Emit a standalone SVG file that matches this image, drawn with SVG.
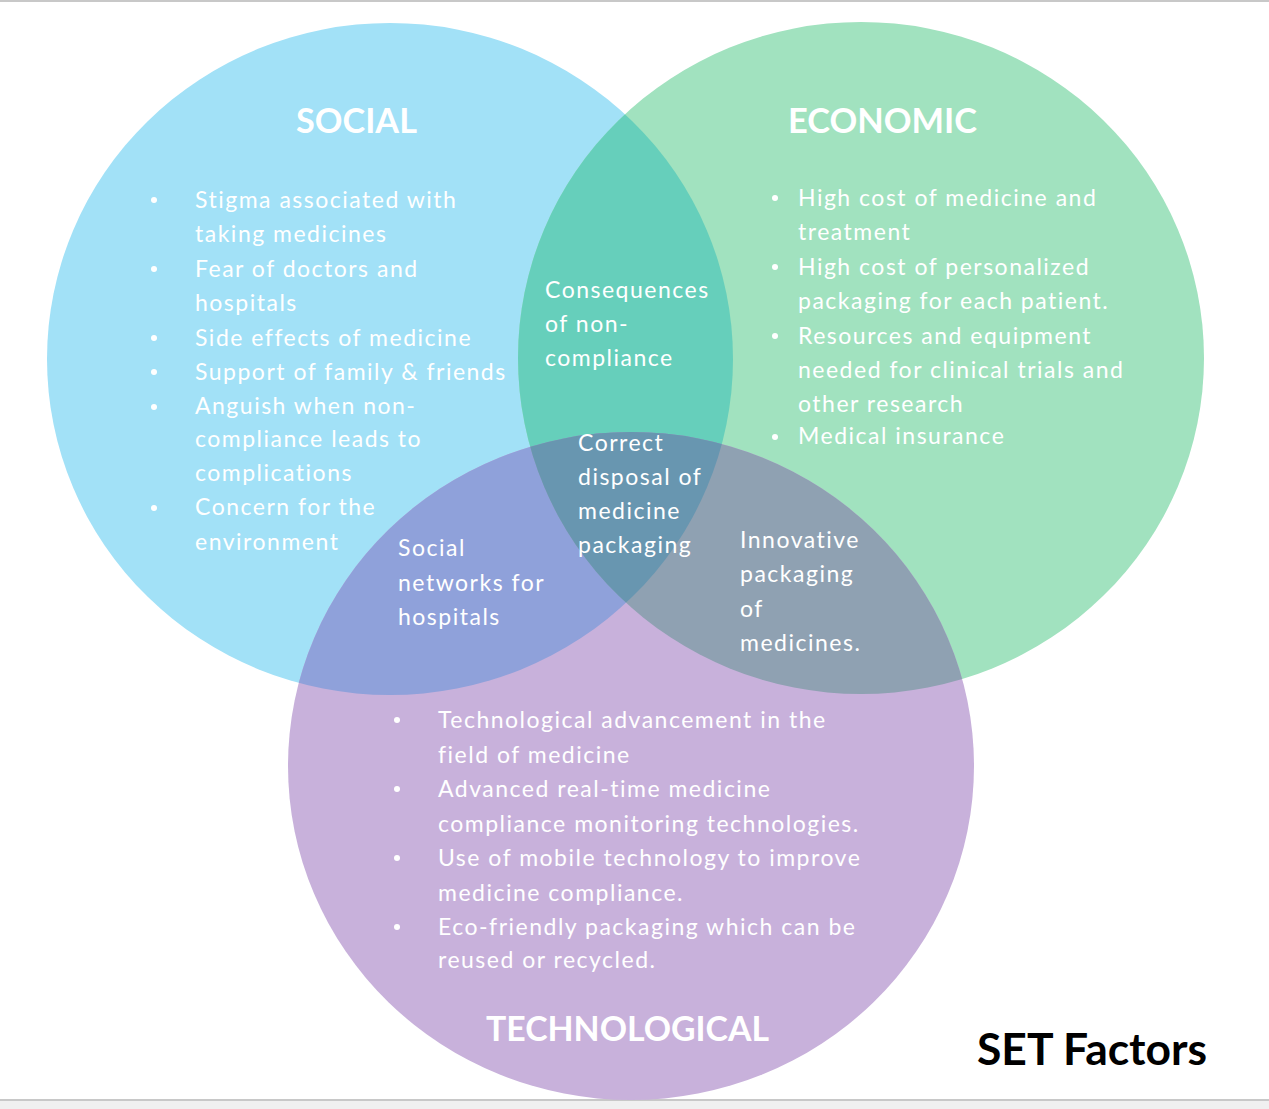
<svg xmlns="http://www.w3.org/2000/svg" width="1269" height="1109" viewBox="0 0 1269 1109">
<style>
.t{font-family:Lato,"Open Sans","Liberation Sans",sans-serif;font-size:23px;letter-spacing:1.5px;fill:#ffffff}
.h{font-family:Lato,"Open Sans","Liberation Sans",sans-serif;font-size:35px;font-weight:bold;fill:#ffffff}
.b{fill:#ffffff}
</style>
<defs>
<ellipse id="cS" cx="390" cy="359" rx="343" ry="336"/>
<ellipse id="cE" cx="861" cy="358" rx="343" ry="336"/>
<ellipse id="cT" cx="631" cy="766" rx="343" ry="334"/>
<clipPath id="clipS"><use href="#cS"/></clipPath>
<clipPath id="clipE"><use href="#cE"/></clipPath>
<clipPath id="clipT"><use href="#cT"/></clipPath>
</defs>
<rect x="0" y="0" width="1269" height="1109" fill="#ffffff"/>
<rect x="0" y="0" width="1269" height="2" fill="#c8c8c8"/>
<rect x="0" y="1101" width="1269" height="8" fill="#f0f0f0"/>
<rect x="0" y="1099" width="1269" height="2" fill="#c8c8c8"/>

<g id="node-social"><use href="#cS" fill="#a2e1f7"/></g>
<g id="node-economic"><use href="#cE" fill="#a1e2bf"/></g>
<g id="node-technological"><use href="#cT" fill="#c8b1db"/></g>
<g id="overlaps">
<g clip-path="url(#clipS)"><use href="#cE" fill="#66cfbb"/></g>
<g clip-path="url(#clipS)"><use href="#cT" fill="#8fa1da"/></g>
<g clip-path="url(#clipE)"><use href="#cT" fill="#8fa1b2"/></g>
<g clip-path="url(#clipS)"><g clip-path="url(#clipE)"><use href="#cT" fill="#6896b0"/></g></g>
</g>
<g id="connectors"/>

<g id="text-social">
<text class="h" x="296" y="133" textLength="121" lengthAdjust="spacingAndGlyphs">SOCIAL</text>
<circle class="b" cx="154" cy="200" r="3"/>
<circle class="b" cx="154" cy="269" r="3"/>
<circle class="b" cx="154" cy="338" r="3"/>
<circle class="b" cx="154" cy="372" r="3"/>
<circle class="b" cx="154" cy="407" r="3"/>
<circle class="b" cx="154" cy="508" r="3"/>
<text class="t" x="195" y="208">Stigma associated with</text>
<text class="t" x="195" y="242">taking medicines</text>
<text class="t" x="195" y="277">Fear of doctors and</text>
<text class="t" x="195" y="311">hospitals</text>
<text class="t" x="195" y="346">Side effects of medicine</text>
<text class="t" x="195" y="380">Support of family &amp; friends</text>
<text class="t" x="195" y="414">Anguish when non-</text>
<text class="t" x="195" y="447">compliance leads to</text>
<text class="t" x="195" y="481">complications</text>
<text class="t" x="195" y="515">Concern for the</text>
<text class="t" x="195" y="550">environment</text>
</g>

<g id="text-economic">
<text class="h" x="788" y="133" textLength="189" lengthAdjust="spacingAndGlyphs">ECONOMIC</text>
<circle class="b" cx="775" cy="198" r="3"/>
<circle class="b" cx="775" cy="267" r="3"/>
<circle class="b" cx="775" cy="336" r="3"/>
<circle class="b" cx="775" cy="437" r="3"/>
<text class="t" x="798" y="206">High cost of medicine and</text>
<text class="t" x="798" y="240">treatment</text>
<text class="t" x="798" y="275">High cost of personalized</text>
<text class="t" x="798" y="309">packaging for each patient.</text>
<text class="t" x="798" y="344">Resources and equipment</text>
<text class="t" x="798" y="378">needed for clinical trials and</text>
<text class="t" x="798" y="412">other research</text>
<text class="t" x="798" y="444">Medical insurance</text>
</g>

<g id="text-social-economic">
<text class="t" x="545" y="298">Consequences</text>
<text class="t" x="545" y="332">of non-</text>
<text class="t" x="545" y="366">compliance</text>
</g>

<g id="text-center">
<text class="t" x="578" y="451">Correct</text>
<text class="t" x="578" y="485">disposal of</text>
<text class="t" x="578" y="519">medicine</text>
<text class="t" x="578" y="553">packaging</text>
</g>

<g id="text-social-technological">
<text class="t" x="398" y="556">Social</text>
<text class="t" x="398" y="591">networks for</text>
<text class="t" x="398" y="625">hospitals</text>
</g>

<g id="text-economic-technological">
<text class="t" x="740" y="548">Innovative</text>
<text class="t" x="740" y="582">packaging</text>
<text class="t" x="740" y="617">of</text>
<text class="t" x="740" y="651">medicines.</text>
</g>

<g id="text-technological">
<circle class="b" cx="397" cy="720" r="3"/>
<circle class="b" cx="397" cy="789" r="3"/>
<circle class="b" cx="397" cy="858" r="3"/>
<circle class="b" cx="397" cy="927" r="3"/>
<text class="t" x="438" y="728">Technological advancement in the</text>
<text class="t" x="438" y="763">field of medicine</text>
<text class="t" x="438" y="797">Advanced real-time medicine</text>
<text class="t" x="438" y="832">compliance monitoring technologies.</text>
<text class="t" x="438" y="866">Use of mobile technology to improve</text>
<text class="t" x="438" y="901">medicine compliance.</text>
<text class="t" x="438" y="935">Eco-friendly packaging which can be</text>
<text class="t" x="438" y="968">reused or recycled.</text>
<text class="h" x="486" y="1041" textLength="283" lengthAdjust="spacingAndGlyphs">TECHNOLOGICAL</text>
</g>

<g id="title">
<text x="977" y="1065" font-family="Lato,'Open Sans','Liberation Sans',sans-serif" font-size="44" font-weight="bold" fill="#000000" textLength="230" lengthAdjust="spacingAndGlyphs">SET Factors</text>
</g>
</svg>
